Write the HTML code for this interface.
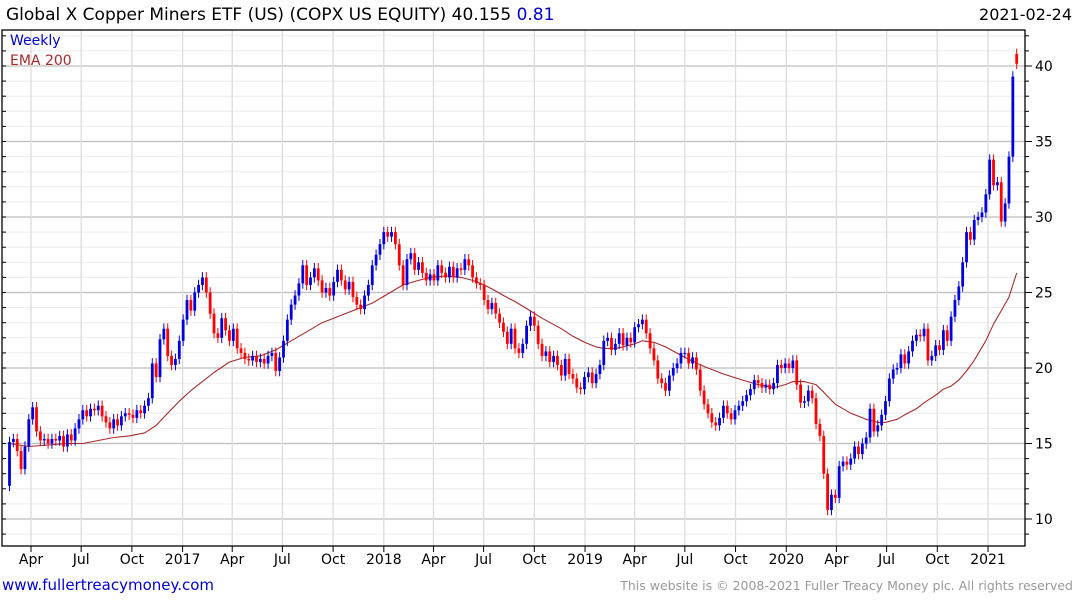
<!DOCTYPE html>
<html><head><meta charset="utf-8">
<style>
html,body{margin:0;padding:0;background:#fff;}
body{width:1075px;height:600px;overflow:hidden;font-family:"DejaVu Sans","Liberation Sans",sans-serif;}
svg text{font-family:"DejaVu Sans","Liberation Sans",sans-serif;}
</style></head>
<body>
<svg id="chart" width="1075" height="600" viewBox="0 0 1075 600" xmlns="http://www.w3.org/2000/svg">
  <text x="6" y="20" font-size="17" fill="#000">Global X Copper Miners ETF (US) (COPX US EQUITY) 40.155 <tspan fill="#0000cc">0.81</tspan></text>
  <text x="1072" y="20" font-size="16" fill="#000" text-anchor="end">2021-02-24</text>
  <g id="grid"></g>
  <g id="ema"></g>
  <g id="candles"></g>
  <g id="axes"></g>
  <text x="10" y="45" font-size="14" fill="#0000cc">Weekly</text>
  <text x="10" y="65" font-size="14" fill="#a52a2a">EMA 200</text>
  <text x="2" y="590" font-size="15" fill="#0000cc">www.fullertreacymoney.com</text>
  <text x="1073" y="590" font-size="12.5" fill="#999" text-anchor="end">This website is © 2008-2021 Fuller Treacy Money plc. All rights reserved</text>
</svg>
<script>
// ---- data ----
const firstWeek = "2016-02-22";
const closes = [
15.1,
15.3,14.5,13.3,14.8,
16.6,17.4,15.8,15.2,15.3,
15.0,15.3,15.2,15.5,
14.8,15.6,15.2,16.0,
16.6,17.2,16.8,17.3,17.2,
17.5,16.8,16.4,16.0,
16.6,16.2,16.8,17.0,16.9,
16.7,17.2,17.0,17.5,
18.0,20.3,19.4,21.9,
22.6,20.8,20.2,20.6,21.8,
23.2,24.5,23.8,25.0,
25.5,26.0,25.0,23.6,
22.3,22.0,23.3,22.5,21.8,
22.6,21.3,21.0,20.6,
20.5,20.8,20.4,20.6,
20.3,20.8,21.0,19.8,20.7,
21.8,23.2,24.2,24.8,
25.6,26.8,25.5,26.0,
26.6,25.8,25.0,25.3,24.8,
25.7,26.5,25.8,25.2,
25.7,24.7,24.2,23.9,
24.8,25.5,26.8,27.5,28.2,
29.0,28.7,29.0,28.2,
26.8,25.5,27.2,27.6,
26.5,27.0,26.3,25.8,26.2,
25.8,26.8,26.3,26.0,
26.7,26.0,26.6,26.5,
27.2,26.8,26.0,25.6,25.5,
24.5,23.9,24.3,23.6,
23.0,22.4,21.6,22.6,21.3,
21.0,21.6,22.8,23.4,
22.8,21.6,20.8,21.1,
20.4,20.8,20.2,19.5,20.6,
19.6,19.3,18.7,18.6,
19.4,19.7,19.0,19.6,
20.2,21.8,22.0,21.2,
21.6,22.3,21.5,22.0,21.7,
22.7,22.9,23.2,22.3,
21.3,20.5,19.3,19.0,18.5,
19.5,20.0,20.3,21.0,
21.0,20.3,20.7,19.9,
18.5,17.6,17.0,16.4,16.2,
16.7,17.5,17.0,16.6,
17.2,17.5,17.8,18.2,
18.6,19.2,19.0,18.7,18.9,
18.6,19.0,20.2,20.0,
20.3,20.0,20.5,18.9,17.7,
17.8,18.5,18.0,16.3,
15.5,13.0,10.6,11.6,
11.4,13.5,13.8,13.6,
14.0,14.8,14.3,15.0,15.4,
17.3,15.8,16.2,16.9,
17.8,19.3,19.9,20.0,20.9,
20.3,21.1,21.8,22.2,
22.1,22.6,20.5,20.8,
21.5,21.2,22.5,21.8,23.4,
24.5,25.4,27.0,29.0,
28.5,29.8,30.0,30.3,
31.5,33.8,32.1,32.3,29.7,
30.9,34.0,39.3,40.15
];
const firstOpen = 12.2;
const openOverrideIdx = [261];
const openOverrideVal = [40.8];
const emaWeeks = [0,5,10,15,19,23,27,31,35,38,41,44,47,50,53,57,61,65,69,73,77,81,85,89,94,98,102,106,109,113,117,120,123,126,128,131,133,138,143,146,149,152,154,157,159,162,164,167,170,175,180,185,190,194,198,201,203,206,209,211,214,218,222,225,227,230,232,235,237,240,242,244,246,248,250,253,255,257,259,261];
const emaVals  = [15.0,14.8,14.9,15.0,15.0,15.2,15.4,15.5,15.7,16.2,17.0,17.8,18.5,19.1,19.7,20.4,20.7,20.8,21.2,21.8,22.4,23.0,23.4,23.8,24.3,24.9,25.5,25.8,26.0,26.1,26.0,25.8,25.5,25.1,24.8,24.4,24.1,23.3,22.6,22.1,21.7,21.4,21.3,21.3,21.4,21.6,21.8,21.7,21.4,20.7,20.1,19.6,19.2,18.9,18.7,18.9,19.1,19.1,18.9,18.4,17.6,17.0,16.6,16.4,16.4,16.6,16.9,17.3,17.7,18.2,18.6,18.8,19.2,19.8,20.5,21.8,22.9,23.8,24.7,26.3];
const yTicks = [10,15,20,25,30,35,40];
const xTickLabels = ["Apr","Jul","Oct","2017","Apr","Jul","Oct","2018","Apr","Jul","Oct","2019","Apr","Jul","Oct","2020","Apr","Jul","Oct","2021"];
const xTickDates = ["2016-04-01","2016-07-01","2016-10-01","2017-01-01","2017-04-01","2017-07-01","2017-10-01","2018-01-01","2018-04-01","2018-07-01","2018-10-01","2019-01-01","2019-04-01","2019-07-01","2019-10-01","2020-01-01","2020-04-01","2020-07-01","2020-10-01","2021-01-01"];

// ---- scales ----
const L=2,R=1025,T=30,B=546;
const NS="http://www.w3.org/2000/svg";
function yScale(v){return 66+(40-v)*15.1;}
const refDate=Date.parse("2016-04-01");
function xDate(d){return 31+(Date.parse(d)-refDate)/864e5/7*3.859;}
const firstX=xDate(firstWeek);
function xWeek(i){return firstX+i*3.859;}
function mk(tag,attrs,parent){const e=document.createElementNS(NS,tag);for(const k in attrs)e.setAttribute(k,attrs[k]);parent.appendChild(e);return e;}

const grid=document.getElementById('grid');
const axes=document.getElementById('axes');
for(let v=9;v<=42;v++){
  const y=yScale(v); if(y<T||y>B) continue;
  const major=yTicks.indexOf(v)>=0;
  const ln=mk('line',{x1:L,x2:R,y1:y,y2:y,stroke:major?'#bdbdbd':'#ececec','stroke-width':major?1.3:1},grid);
  
  
  const tk=mk('line',{x1:R,x2:R+(major?7:4),y1:y,y2:y,stroke:'#000'},axes);
  
  
  const tl=mk('line',{x1:L,x2:L+4,y1:y,y2:y,stroke:'#000'},axes);
  
  
}
yTicks.forEach(v=>{
  const t=mk('text',{x:R+10,y:yScale(v)+5,'font-size':14,fill:'#000'},axes);
  t.textContent=v;
  
  
});
xTickDates.forEach((d,i)=>{
  const x=xDate(d);
  const g=mk('line',{x1:x,x2:x,y1:T,y2:B,stroke:'#dcdcdc','stroke-width':1.3},grid);
  
  
  const tk=mk('line',{x1:x,x2:x,y1:B,y2:B+6,stroke:'#000'},axes);
  
  
  const t=mk('text',{x:x,y:B+18,'font-size':14,fill:'#000','text-anchor':'middle'},axes);
  t.textContent=xTickLabels[i];
  
  
});
const frame=mk('rect',{x:L,y:T,width:R-L,height:B-T,fill:'none',stroke:'#000','stroke-width':1.3},axes);



const emaG=document.getElementById('ema');
const pts=emaWeeks.map((w,i)=>xWeek(w).toFixed(1)+','+yScale(emaVals[i]).toFixed(1)).join(' ');
const pl=mk('polyline',{points:pts,fill:'none',stroke:'#a52a2a','stroke-width':1.1,'stroke-linejoin':'round'},emaG);



const cg=document.getElementById('candles');
closes.forEach((c,i)=>{
  let o=i===0?firstOpen:closes[i-1];
  const oi=openOverrideIdx.indexOf(i); if(oi>=0) o=openOverrideVal[oi];
  const up=c>=o; const col=up?'#0000dd':'#ff0000';
  const hi=Math.max(o,c)+0.35, lo=Math.min(o,c)-0.35;
  const x=xWeek(i);
  const w=mk('line',{x1:x,x2:x,y1:yScale(hi),y2:yScale(lo),stroke:col,'stroke-width':1},cg);
  
  
  const yt=yScale(Math.max(o,c)), yb=yScale(Math.min(o,c));
  const b=mk('rect',{x:x-1.4,y:yt,width:2.8,height:Math.max(1,yb-yt),fill:col},cg);
  
  
});
</script>
</body></html>
